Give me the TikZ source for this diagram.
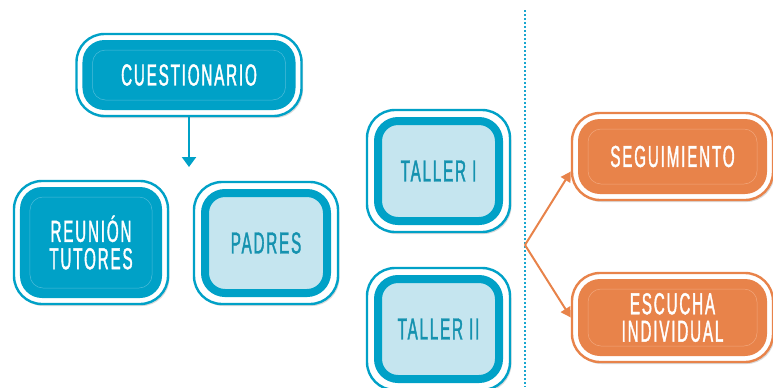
\documentclass[tikz,border=0pt]{standalone}
\usepackage{fontspec}
\newfontfamily\boxfont{Liberation Sans}[FakeStretch=0.5, LetterSpace=6, FakeBold=1.2]
\usetikzlibrary{shadows, arrows.meta}
\definecolor{cblue}{HTML}{00A1C7}
\definecolor{clight}{HTML}{C5E5EF}
\definecolor{cteal}{HTML}{1592AF}
\definecolor{corange}{HTML}{E8834A}
\definecolor{clineb}{HTML}{4DBCD9}
\definecolor{clineo}{HTML}{F2A77C}
\definecolor{cdot}{HTML}{1AA6CF}
\tikzset{
  base/.style={shape=rectangle, line width=2.4bp, fill=white, rounded corners=28bp, inner sep=0pt,
    align=center, font=\boxfont\fontsize{30.5}{27.5}\selectfont,
    drop shadow={shadow xshift=1.5bp, shadow yshift=-2bp, opacity=0.15, fill=black}},
  darkbox/.style 2 args={base, draw=#1, text=white, path picture={
    \fill[#1, rounded corners=22bp] ([shift={(6bp,-6bp)}]path picture bounding box.north west) rectangle ([shift={(-6bp,6bp)}]path picture bounding box.south east);
    \draw[#2, line width=0.5bp, rounded corners=13bp] ([shift={(16bp,-16bp)}]path picture bounding box.north west) rectangle ([shift={(-16bp,16bp)}]path picture bounding box.south east);}},
  lightbox/.style={base, draw=cblue, text=cteal, path picture={
    \draw[cblue, fill=clight, line width=8bp, rounded corners=20bp] ([shift={(11bp,-11bp)}]path picture bounding box.north west) rectangle ([shift={(-11bp,11bp)}]path picture bounding box.south east);}},
  bluearrow/.style={cblue, line width=2.2bp, -{Triangle[width=14bp,length=10bp]}},
  orangearrow/.style={corange, line width=2bp, -{Triangle[width=11bp,length=10bp]}},
  divider/.style={cdot, line width=2bp, dash pattern=on 2bp off 2bp}
}
\begin{document}
\begin{tikzpicture}[x=1bp, y=-1bp]
  \useasboundingbox (0,0) rectangle (773,387);
  \coordinate (dtop) at (525,10);
  \coordinate (dbot) at (525,387);
  \draw[divider] (dtop) -- (dbot);

  \node[darkbox={cblue}{clineb}, minimum width=225bp, minimum height=82bp] (cuest) at (189,75) {CUESTIONARIO};
  \node[darkbox={cblue}{clineb}, minimum width=154bp, minimum height=123bp] (reunion) at (91,242.5) {REUNIÓN\\TUTORES};
  \node[lightbox, minimum width=144bp, minimum height=122bp] (padres) at (266,243) {PADRES};
  \node[lightbox, minimum width=143bp, minimum height=122bp] (taller1) at (438.5,171) {TALLER I};
  \node[lightbox, minimum width=143bp, minimum height=122bp] (taller2) at (438.5,329) {TALLER II};
  \node[darkbox={corange}{clineo}, minimum width=201bp, minimum height=87bp] (seg) at (672.5,156.5) {SEGUIMIENTO};
  \node[darkbox={corange}{clineo}, minimum width=201bp, minimum height=89bp] (esc) at (672.5,317.5) {ESCUCHA\\INDIVIDUAL};

  \coordinate (atip) at (189,167);
  \draw[bluearrow] (cuest.south) -- (atip);
  \coordinate (fork) at (525,245);
  \draw[orangearrow] (fork) -- ([yshift=-15bp]seg.west);
  \draw[orangearrow] (fork) -- (esc.west);
\end{tikzpicture}
\end{document}
